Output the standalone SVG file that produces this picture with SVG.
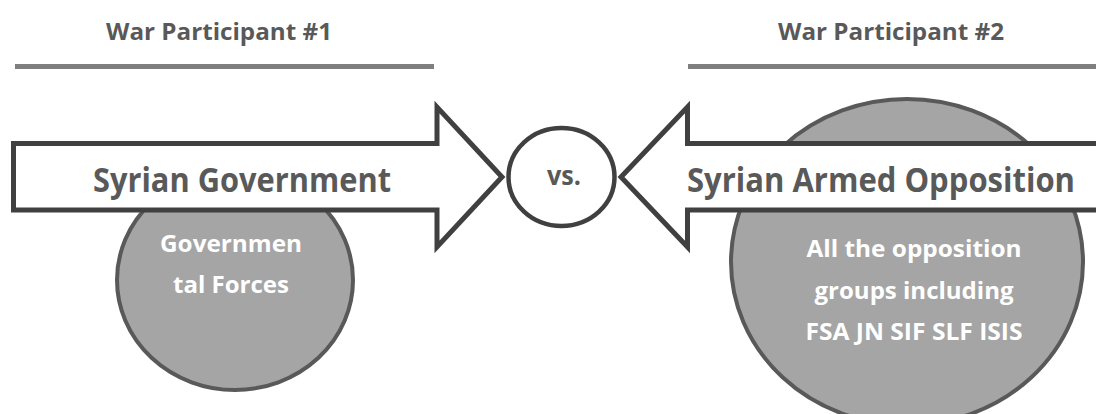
<svg xmlns="http://www.w3.org/2000/svg" width="1096" height="414" viewBox="0 0 1096 414">
  <style>
    .hdr { font-family: "Open Sans", "Liberation Sans", sans-serif; font-weight: 700; font-size: 24px; fill: #595959; text-anchor: middle; }
    .rule { fill: #7f7f7f; }
    .party { fill: #a5a5a5; stroke: #595959; stroke-width: 4; }
    .party-text { font-family: "Open Sans", "Liberation Sans", sans-serif; font-weight: 700; font-size: 24px; fill: #ffffff; text-anchor: middle; }
    .arrow { fill: #ffffff; stroke: #404040; stroke-width: 5; stroke-linejoin: miter; stroke-miterlimit: 10; }
    .arrow-text { font-family: "Open Sans", "Liberation Sans", sans-serif; font-weight: 700; font-size: 34px; fill: #595959; text-anchor: middle; }
    .vs { fill: #ffffff; stroke: #404040; stroke-width: 4.5; }
    .vs-text { font-family: "Open Sans", "Liberation Sans", sans-serif; font-weight: 700; font-size: 27px; fill: #595959; text-anchor: middle; }
  </style>

  <!-- column headers with their rules -->
  <g id="header-1">
    <text class="hdr" x="219" y="40" textLength="226" lengthAdjust="spacingAndGlyphs">War Participant #1</text>
    <rect class="rule" x="15" y="64" width="419" height="5"/>
  </g>
  <g id="header-2">
    <text class="hdr" x="891" y="40" textLength="226" lengthAdjust="spacingAndGlyphs">War Participant #2</text>
    <rect class="rule" x="688" y="64" width="408" height="5"/>
  </g>

  <!-- participant bubbles (drawn first so the arrows sit on top) -->
  <g id="gov-forces">
    <ellipse class="party" cx="235" cy="280" rx="118" ry="110"/>
    <text class="party-text" x="231" y="252" textLength="142" lengthAdjust="spacingAndGlyphs">Governmen</text>
    <text class="party-text" x="231" y="293" textLength="116" lengthAdjust="spacingAndGlyphs">tal Forces</text>
  </g>
  <g id="opposition-groups">
    <ellipse class="party" cx="907" cy="262" rx="176" ry="163"/>
    <text class="party-text" x="914" y="257" textLength="215" lengthAdjust="spacingAndGlyphs">All the opposition</text>
    <text class="party-text" x="914" y="299" textLength="199" lengthAdjust="spacingAndGlyphs">groups including</text>
    <text class="party-text" x="914" y="340" textLength="217" lengthAdjust="spacingAndGlyphs">FSA JN SIF SLF ISIS</text>
  </g>

  <!-- connectors: the two facing block arrows -->
  <g id="connectors">
    <g id="arrow-gov">
      <path class="arrow" d="M13.5,143.5 H437 V107 L502,177 L437,247 V210 H13.5 Z"/>
      <text class="arrow-text" x="242" y="192" textLength="298" lengthAdjust="spacingAndGlyphs">Syrian Government</text>
    </g>
    <g id="arrow-opposition">
      <path class="arrow" d="M1110,143.5 H687.5 V107 L621,177 L687.5,247 V210 H1110 Z"/>
      <text class="arrow-text" x="881" y="192" textLength="388" lengthAdjust="spacingAndGlyphs">Syrian Armed Opposition</text>
    </g>
  </g>

  <!-- centre "vs." badge -->
  <g id="versus">
    <ellipse class="vs" cx="561.5" cy="177" rx="53" ry="49"/>
    <text class="vs-text" x="564" y="185" textLength="34" lengthAdjust="spacingAndGlyphs">vs.</text>
  </g>
</svg>
